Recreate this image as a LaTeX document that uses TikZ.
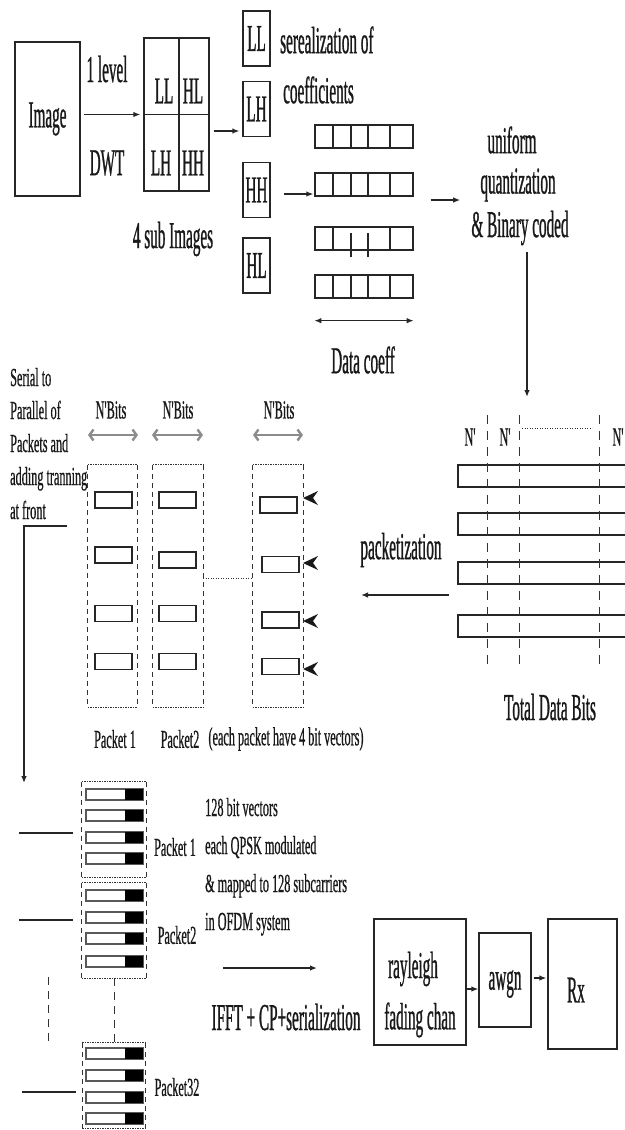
\documentclass[tikz,border=0pt]{standalone}
\usepackage{fontspec}
\setmainfont{Liberation Serif}[FakeStretch=0.4, FakeBold=0.7]
\newfontfamily\narrowsmall{Liberation Serif}[FakeStretch=0.47, FakeBold=0.6]
\usetikzlibrary{arrows.meta}

\tikzset{
  ln/.style={line width=1.3pt, draw=black!85},
  thinln/.style={line width=0.9pt, draw=black!80},
  big/.style={font=\fontsize{38}{38}\selectfont, inner sep=0pt, text=black!90},
  small/.style={font=\narrowsmall\fontsize{26}{26}\selectfont, inner sep=0pt, text=black!90},
  arr/.style={ln, -{Latex[length=7pt,width=5.5pt]}},
  blk/.style={ln, draw, rectangle, inner sep=0pt},
  gar/.style={line width=2.4pt, draw=black!45,
    {Straight Barb[length=4pt,width=11pt]}-{Straight Barb[length=4pt,width=11pt]}},
  pk/.style={rectangle, inner sep=0pt},
  vec/.style={blk, minimum width=37pt, minimum height=16pt},
  bar/.style={line width=1.3pt, draw=black!65, fill=white},
}

% packet frame: fine dots on top and bottom, short dashes on the sides
\newcommand\pkbox[1]{%
  \draw[thinln, dash pattern=on 1.2pt off 1.3pt] (#1.north west) -- (#1.north east)
       (#1.south west) -- (#1.south east);
  \draw[thinln, dash pattern=on 5pt off 4pt] (#1.north west) -- (#1.south west)
       (#1.north east) -- (#1.south east);
}

\begin{document}
\begin{tikzpicture}[x=1pt,y=-1pt]
\fill[white] (0,0) rectangle (624,1130);
\useasboundingbox (0,0) rectangle (624,1130);

% ---------- wavelet decomposition ----------
\node[blk, big, minimum width=65pt, minimum height=154pt] (img) at (47.5,119) {Image};
\node[big] (lvl) at (107,69) {1 level};
\node[big] (dwt) at (107,163) {DWT};

\node[blk, minimum width=65pt, minimum height=153pt] (sub) at (176.5,114.5) {};
\draw[ln] (179,38) -- (179,191);
\draw[ln] (sub.west) -- (sub.east);
\node[big] (sLL) at (164,91) {LL};
\node[big] (sHL) at (193,91) {HL};
\node[big] (sLH) at (161,163) {LH};
\node[big] (sHH) at (193,163) {HH};
\node[big] (subcap) at (173,239) {4 sub Images};
\draw[arr] ([xshift=3pt]img.east |- sub.west) -- ([xshift=-3pt]sub.west);

\node[blk, big, minimum width=27pt, minimum height=55pt] (bLL) at (256.5,38.5) {LL};
\node[blk, big, minimum width=27pt, minimum height=55pt] (bLH) at (256.5,109) {LH};
\node[blk, big, minimum width=27pt, minimum height=55pt] (bHH) at (256.5,190) {HH};
\node[blk, big, minimum width=27pt, minimum height=55pt] (bHL) at (256.5,265.5) {HL};
\draw[arr] ([shift={(4,16.5)}]sub.east) -- ([shift={(-3,22)}]bLH.west);

\node[big, anchor=west] (ser1) at (280,40) {serealization of};
\node[big, anchor=west] (ser2) at (283,90) {coefficients};

% ---------- coefficient rows ----------
\foreach \y [count=\i] in {136.5,184.5,238.5,286.5}
  \node[blk, minimum width=98pt, minimum height=23pt] (r\i) at (364,\y) {};
\foreach \t in {125,173,275}
  \foreach \x in {333,351,368,390}
    \draw[ln] (\x,\t) -- (\x,\t+23);
\draw[ln] (333,227) -- (333,250) (390,227) -- (390,250)
          (351,233) -- (351,257) (368,233) -- (368,257);
\draw[arr] ([shift={(13,4)}]bHH.east) -- ([shift={(-1,9.5)}]r2.west);
\draw[ln, {Latex[length=7pt,width=5.5pt]}-{Latex[length=7pt,width=5.5pt]}]
  ([shift={(0,22)}]r4.south west) -- ([shift={(0,22)}]r4.south east);
\node[big] (dc) at (363,360) {Data coeff};

% ---------- quantization ----------
\node[big] (q1) at (512,140) {uniform};
\node[big] (q2) at (518,185) {quantization};
\node[big] (q3) at (520,228) {\& Binary coded};
\draw[arr] ([shift={(17,15.5)}]r2.east) -- ([shift={(-20,15)}]q2.west);
\coordinate (tdbtop) at (527,397);
\draw[arr] ([shift={(7,7)}]q3.south) -- (tdbtop);

% ---------- total data bits ----------
\foreach \t in {465,513,562,615}
  \draw[ln] (630,\t) -- (458,\t) -- (458,\t+22) -- (630,\t+22);
\foreach \x in {487,519,599}
  \draw[thinln, dash pattern=on 9pt off 7pt] (\x,415) -- (\x,665);
\draw[thinln, dash pattern=on 1.2pt off 1.3pt] (522,428) -- (592,428);
\node[small] (n1) at (470,437) {N'};
\node[small] (n2) at (505,437) {N'};
\node[small] (n3) at (618,437) {N'};
\node[big] (tdb) at (550,707) {Total Data Bits};

\node[big] (pkz) at (401,550) {packetization};
\coordinate (pkin) at (449,595);
\coordinate (pkout) at (361,595);
\draw[arr] (pkin) -- (pkout);

% ---------- serial to parallel ----------
\foreach \b/\t [count=\i] in {386/Serial to, 419/Parallel of, 452/Packets and, 485/adding tranning, 519/at front}
  \node[small, anchor=base west] (s\i) at (10,\b) {\t};
\coordinate (sp1) at (67,526);
\coordinate (sp2) at (24,526);
\coordinate (sp3) at (24,783);
\draw[arr] (sp1) -- (sp2) -- (sp3);

\node[small] (nb1) at (111,410) {N'Bits};
\node[small] (nb2) at (178,410) {N'Bits};
\node[small] (nb3) at (279,410) {N'Bits};
\draw[gar] (88,435) -- (138,435);
\draw[gar] (152,435) -- (203,435);
\draw[gar] (253,435) -- (303,435);

\node[pk, minimum width=49pt, minimum height=242pt] (pk1) at (112.5,586) {};
\node[pk, minimum width=50pt, minimum height=242pt] (pk2) at (178,586) {};
\node[pk, minimum width=50pt, minimum height=242pt] (pk3) at (278,586) {};
\pkbox{pk1}
\pkbox{pk2}
\pkbox{pk3}

\foreach \y [count=\j] in {500,555,613.5,661.5}
  \node[vec] (a\j) at (113.5,\y) {};
\foreach \y [count=\j] in {500,560,613.5,661.5}
  \node[vec] (b\j) at (177.5,\y) {};
\foreach \x/\y [count=\j] in {278.5/505,280.5/564.5,280.5/620,280.5/666.5}
  \node[vec] (c\j) at (\x,\y) {};
\foreach \y in {498,563,621,669}
  \fill[black!90] (303,\y) -- (318,\y-7) -- (313,\y) -- (318,\y+7) -- cycle;
\draw[thinln, dash pattern=on 1.2pt off 1.3pt]
  ([shift={(0,-8)}]pk2.east) -- ([shift={(0,-8)}]pk3.west);

\node[small] (lp1) at (115,739) {Packet 1};
\node[small] (lp2) at (180,739) {Packet2};
\node[small] (lp3) at (286,739) {(each packet have 4 bit vectors)};

% ---------- OFDM packets ----------
\node[pk, minimum width=64pt, minimum height=95pt] (P1) at (114,829.5) {};
\node[pk, minimum width=64pt, minimum height=95pt] (P2) at (114,930.5) {};
\node[pk, minimum width=63pt, minimum height=85pt] (P32) at (114,1085.5) {};
\pkbox{P1}
\pkbox{P2}
\pkbox{P32}
\foreach \y in {789,810,832,853,890,912,933,956,1048,1070,1092,1113} {
  \draw[bar] (86,\y) rectangle (143,\y+11);
  \fill[black] (125,\y) rectangle (143,\y+11);
}
\draw[ln] ([shift={(-9,3.5)}]P1.west) -- ([shift={(-63,3.5)}]P1.west);
\draw[ln] ([shift={(-9,-10.5)}]P2.west) -- ([shift={(-63,-10.5)}]P2.west);
\draw[ln] ([shift={(-6.5,6.5)}]P32.west) -- ([shift={(-60.5,6.5)}]P32.west);
\draw[thinln, dash pattern=on 8pt off 6pt] (48,977) -- (48,1045);
\draw[thinln, dash pattern=on 8pt off 6pt] (P2.south) -- (P32.north);

\node[small] (lq1) at (175,847) {Packet 1};
\node[small] (lq2) at (177,935) {Packet2};
\node[small] (lq3) at (177,1087) {Packet32};

\node[small, anchor=base west] (t1) at (205,816) {128 bit vectors};
\node[small, anchor=base west] (t2) at (205,854) {each QPSK modulated};
\node[small, anchor=base west] (t3) at (205,892) {\& mapped to 128 subcarriers};
\node[small, anchor=base west] (t4) at (205,930) {in OFDM system};

\coordinate (ofa) at (223,968);
\coordinate (ofb) at (317,968);
\draw[arr] (ofa) -- (ofb);
\node[big] (ifft) at (286,1017) {IFFT + CP+serialization};

% ---------- channel and receiver ----------
\node[blk, minimum width=92pt, minimum height=126pt] (ray) at (420,982) {};
\node[big] (ray1) at (413,969) {rayleigh};
\node[big] (ray2) at (420,1020) {fading chan};
\node[blk, minimum width=52pt, minimum height=94pt] (awgn) at (505,980) {};
\node[big] (awgnt) at (505,984) {awgn};
\node[blk, minimum width=69pt, minimum height=130pt] (rx) at (582.5,984) {};
\node[big] (rxt) at (576,990) {Rx};
\draw[arr] ([shift={(0,7)}]ray.east) -- ([shift={(0,9)}]awgn.west);
\draw[arr] ([shift={(2,-2)}]awgn.east) -- ([shift={(-1,-6)}]rx.west);
\end{tikzpicture}
\end{document}
